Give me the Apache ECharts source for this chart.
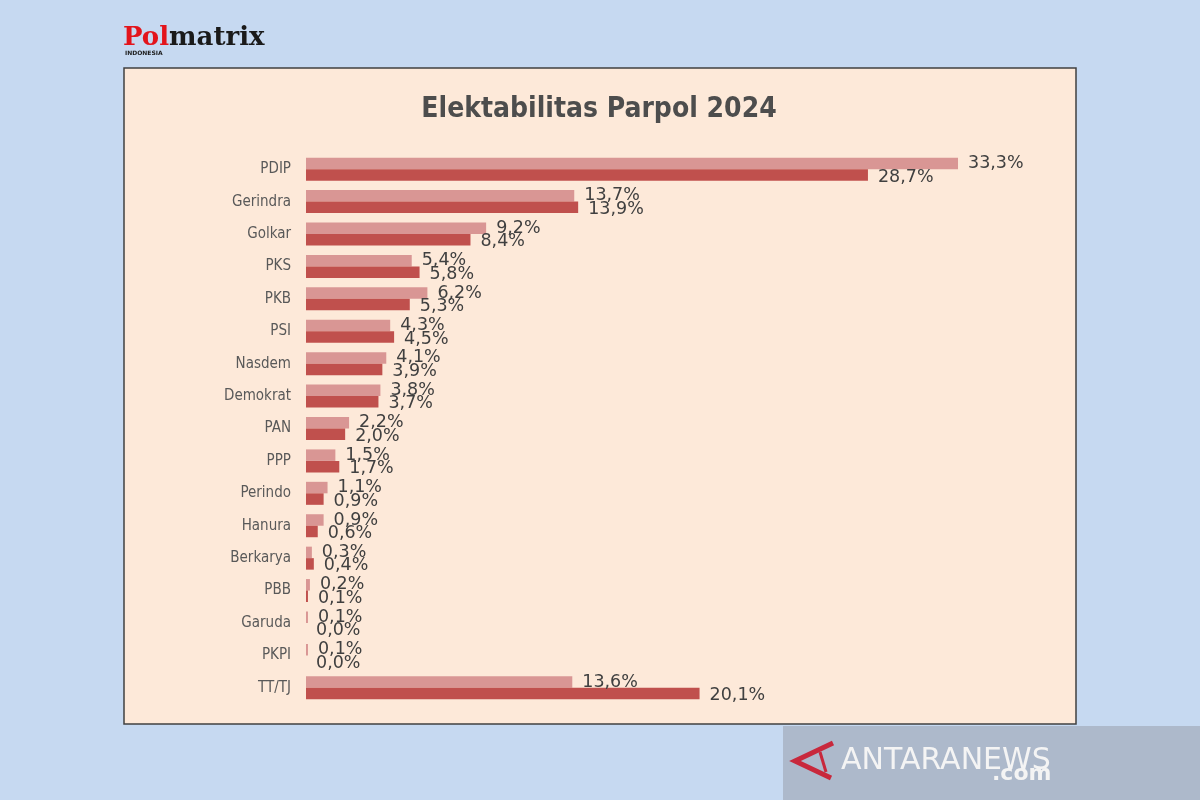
<!DOCTYPE html>
<html>
<head>
<meta charset="utf-8">
<script src="https://cdn.jsdelivr.net/npm/echarts@6/dist/echarts.min.js"></script>
<style>
html,body{margin:0;padding:0;background:#c6d9f1;}
#chart{width:1200px;height:800px;}
</style>
</head>
<body>
<div id="chart"></div>
<script>
const categories = ['PDIP','Gerindra','Golkar','PKS','PKB','PSI','Nasdem','Demokrat','PAN','PPP','Perindo','Hanura','Berkarya','PBB','Garuda','PKPI','TT/TJ'];
const seriesA = [33.3,13.7,9.2,5.4,6.2,4.3,4.1,3.8,2.2,1.5,1.1,0.9,0.3,0.2,0.1,0.1,13.6];
const seriesB = [28.7,13.9,8.4,5.8,5.3,4.5,3.9,3.7,2.0,1.7,0.9,0.6,0.4,0.1,0.0,0.0,20.1];
const titleText = 'Elektabilitas Parpol 2024';

const fmt = p => p.value.toFixed(1).replace('.', ',') + '%';
const labelStyle = {
  show: true, position: 'right', distance: 10, formatter: fmt,
  color: '#404040', fontSize: 17.5, fontFamily: 'DejaVu Sans'
};

const chart = echarts.init(document.getElementById('chart'));
chart.setOption({
  backgroundColor: '#c6d9f1',
  animation: false,
  title: {
    text: titleText, left: 594, textAlign: 'center', top: 91,
    textStyle: {fontFamily: 'DejaVu Sans Condensed', fontWeight: 'bold', fontSize: 28, color: '#4d4d4d'}
  },
  graphic: [
    {type: 'rect', z: -10, shape: {x: 124, y: 68, width: 952, height: 656},
     style: {fill: '#fde9d9', stroke: '#404040', lineWidth: 1.5}},
    {type: 'text', left: 123, top: 25, z: 10,
     style: {
       text: '{r|Pol}{k|matrix}',
       rich: {
         r: {fill: '#e3141b', fontSize: 26, fontFamily: 'DejaVu Serif', fontWeight: 'bold'},
         k: {fill: '#1a1a1a', fontSize: 26, fontFamily: 'DejaVu Serif', fontWeight: 'bold'}
       }
     }},
    {type: 'text', left: 125, top: 50, z: 10,
     style: {text: 'INDONESIA', fill: '#1a1a1a', font: 'bold 6px "DejaVu Sans"'}},
    {type: 'rect', z: 20, shape: {x: 783, y: 726, width: 417, height: 74},
     style: {fill: 'rgba(170,181,198,0.9)'}},
    {type: 'polyline', z: 21, shape: {points: [[833, 743], [795, 761], [831, 778]]},
     style: {stroke: '#c8283c', lineWidth: 5, fill: null}},
    {type: 'line', z: 21, shape: {x1: 820, y1: 752, x2: 826, y2: 772},
     style: {stroke: '#c8283c', lineWidth: 3}},
    {type: 'text', left: 841, top: 746, z: 21,
     style: {text: 'ANTARANEWS', fill: '#f4f4f4', font: '30px "DejaVu Sans"'}},
    {type: 'text', left: 992, top: 763, z: 21,
     style: {text: '.com', fill: '#f4f4f4', font: 'bold 22px "DejaVu Sans"'}}
  ],
  grid: {left: 306, top: 153, width: 685.3, height: 551, containLabel: false},
  xAxis: {
    type: 'value', min: 0, max: 35, show: false
  },
  yAxis: {
    type: 'category', data: categories, inverse: true,
    axisLine: {show: false}, axisTick: {show: false},
    axisLabel: {margin: 15, color: '#595959', fontSize: 15, fontFamily: 'DejaVu Sans Condensed'}
  },
  series: [
    {type: 'bar', name: 'A', data: seriesA, barWidth: 11.5, barGap: '0%',
     itemStyle: {color: '#d99694'}, label: labelStyle},
    {type: 'bar', name: 'B', data: seriesB, barWidth: 11.5, barGap: '0%',
     itemStyle: {color: '#c0504d'}, label: Object.assign({}, labelStyle, {offset: [0, 2]})}
  ]
});
</script>
</body>
</html>
